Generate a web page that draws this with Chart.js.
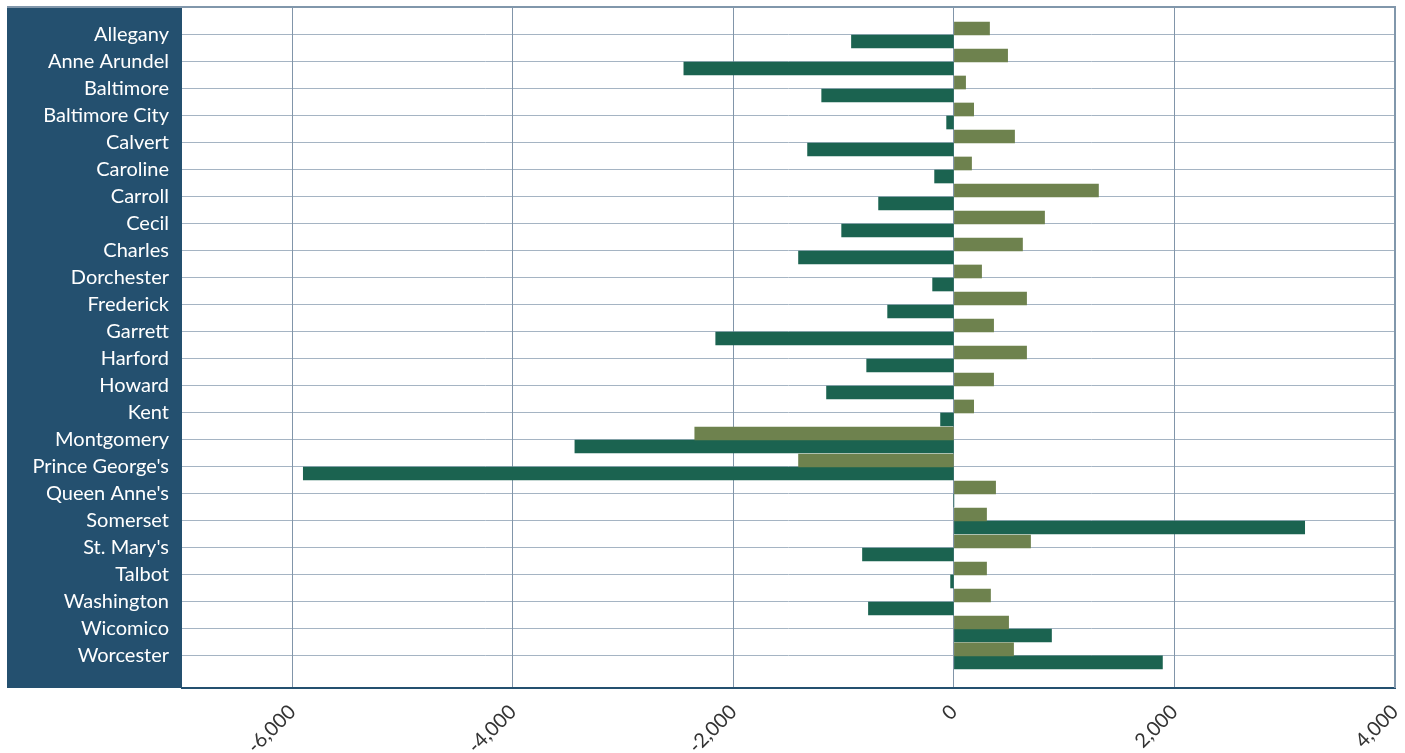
<!DOCTYPE html>
<html>
<head>
<meta charset="utf-8">
<title>Maryland counties</title>
<script src="https://cdn.jsdelivr.net/npm/chart.js@4.4.0/dist/chart.umd.min.js"></script>
<style>
  html, body { margin: 0; padding: 0; background: #fff; }
  #wrap { position: relative; width: 1405px; height: 753px; }
</style>
</head>
<body>
<div id="wrap"><canvas id="countyChart"></canvas></div>
<script>
// --- Data ---
const counties = ['Allegany', 'Anne Arundel', 'Baltimore', 'Baltimore City', 'Calvert', 'Caroline',
    'Carroll', 'Cecil', 'Charles', 'Dorchester', 'Frederick', 'Garrett', 'Harford', 'Howard', 'Kent',
    'Montgomery', "Prince George's", "Queen Anne's", 'Somerset', "St. Mary's", 'Talbot', 'Washington',
    'Wicomico', 'Worcester'];
const oliveValues = [323, 487, 106, 179, 550, 160, 1311, 822, 622, 251, 659, 360, 659, 360, 179,
    -2350, -1409, 378, 296, 695, 296, 332, 496, 541];
const greenValues = [-929, -2449, -1199, -66, -1327, -175, -683, -1018, -1409, -193, -601, -2160, -791,
    -1155, -121, -3437, -5900, 0, 3181, -829, -30, -775, 885, 1891];
const xTickValues = [-6000, -4000, -2000, 0, 2000, 4000];

const labelFont = 'Lato, "Open Sans", sans-serif';

// blue label panel + outer frame lines
const framePlugin = {
    id: 'frame',
    beforeDraw(chart) {
        const { ctx, chartArea, scales } = chart;
        const y = scales.y;
        ctx.save();
        ctx.fillStyle = '#24506f';
        ctx.fillRect(y.left, chartArea.top, y.right - y.left, chartArea.bottom - chartArea.top);
        ctx.restore();
    },
    afterDraw(chart) {
        const { ctx, chartArea, scales } = chart;
        const y = scales.y;
        ctx.save();
        ctx.strokeStyle = '#8197ab';
        ctx.lineWidth = 2;
        ctx.beginPath();
        ctx.moveTo(y.left, chartArea.top);
        ctx.lineTo(chartArea.right + 1, chartArea.top);
        ctx.moveTo(chartArea.right, chartArea.top);
        ctx.lineTo(chartArea.right, chartArea.bottom);
        ctx.stroke();
        ctx.restore();
    }
};

// no extra room for edge labels, the frame is fixed
function noEdgePadding(scale) {
    scale.paddingTop = 0;
    scale.paddingBottom = 0;
    scale.paddingLeft = 0;
    scale.paddingRight = 0;
}

const ctx = document.getElementById('countyChart');
new Chart(ctx.getContext('2d'), {
    type: 'bar',
    data: {
        datasets: [{
            label: 'Series 1',
            data: oliveValues.map((v, i) => ({ x: v, y: i })),
            backgroundColor: '#6e824e',
            borderWidth: 0,
            barThickness: 13
        }, {
            label: 'Series 2',
            data: greenValues.map((v, i) => ({ x: v, y: i })),
            backgroundColor: '#1b6350',
            borderWidth: 0,
            barThickness: 13
        }]
    },
    options: {
        indexAxis: 'y',
        responsive: true,
        maintainAspectRatio: false,
        animation: false,
        layout: {
            padding: { left: 7, top: 7, right: 10, bottom: 0 }
        },
        plugins: {
            legend: { display: false },
            tooltip: { enabled: false }
        },
        scales: {
            y: {
                type: 'linear',
                reverse: true,
                offset: false,
                min: -1.037,
                max: 24.187,
                afterBuildTicks: scale => {
                    scale.ticks = counties.map((c, i) => ({ value: i }));
                },
                afterFit: scale => {
                    scale.width = 175;
                    noEdgePadding(scale);
                },
                grid: { color: '#a5b4c3', drawTicks: false, offset: false },
                border: { display: false },
                ticks: {
                    autoSkip: false,
                    color: '#ffffff',
                    padding: 13,
                    font: { family: labelFont, size: 20 },
                    callback: value => counties[value]
                }
            },
            x: {
                type: 'linear',
                min: -7000,
                max: 4000,
                afterBuildTicks: scale => {
                    scale.ticks = xTickValues.map(v => ({ value: v }));
                },
                afterFit: scale => {
                    scale.height = 65;
                    noEdgePadding(scale);
                },
                grid: { color: '#8195a9', drawTicks: false },
                border: { color: '#24506f', width: 2 },
                ticks: {
                    color: '#333333',
                    padding: 12,
                    minRotation: 45,
                    maxRotation: 45,
                    font: { family: labelFont, size: 20 }
                }
            }
        }
    },
    plugins: [framePlugin]
});
</script>
</body>
</html>
